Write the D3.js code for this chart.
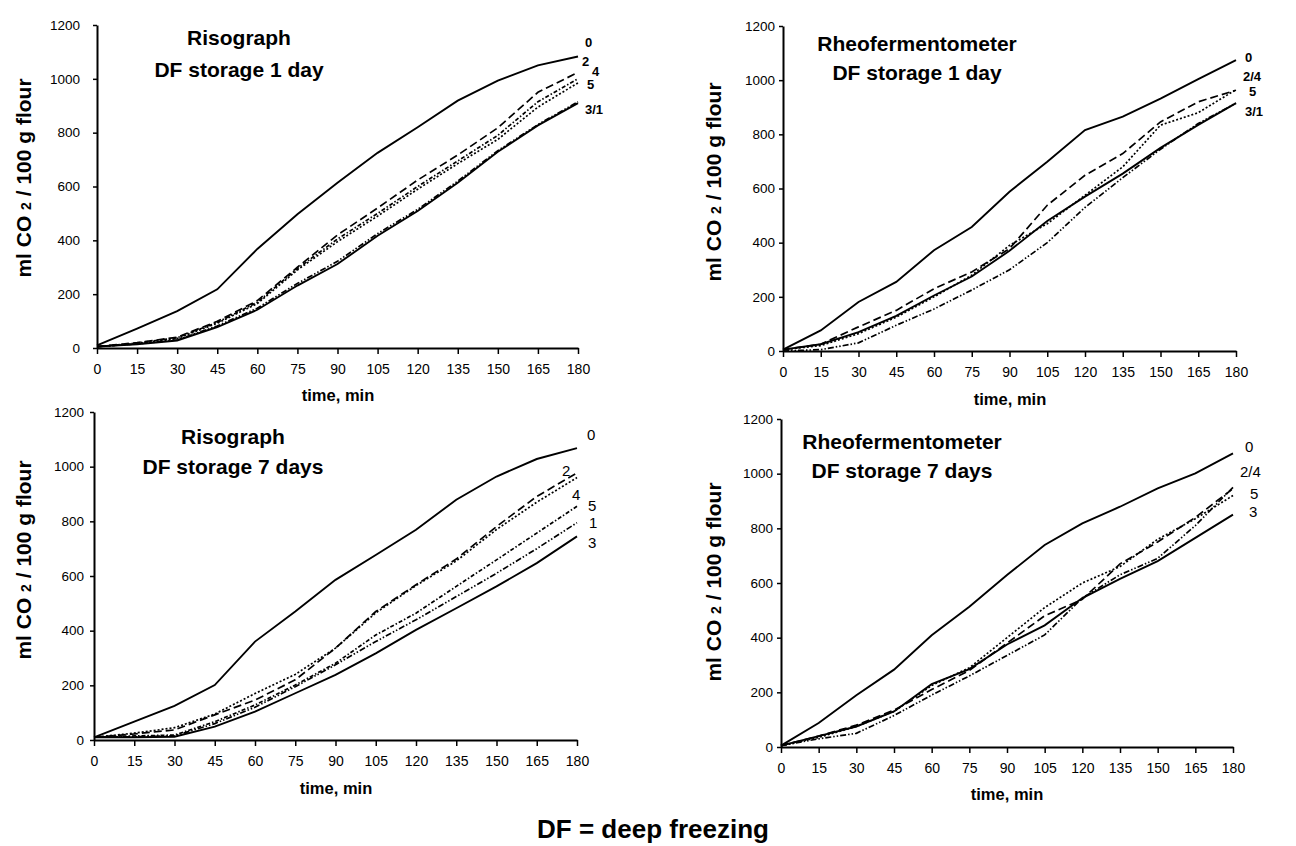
<!DOCTYPE html>
<html>
<head>
<meta charset="utf-8">
<script src="https://cdn.jsdelivr.net/npm/d3@7"></script>
<style>
  body { margin: 0; background: #fff; }
  svg { display: block; font-family: Arial, "Liberation Sans", Helvetica, sans-serif; }
</style>
</head>
<body>
<div id="chart"></div>
<script>
// time axis, minutes
var times = [0, 15, 30, 45, 60, 75, 90, 105, 120, 135, 150, 165, 180];
var yTicks = [0, 200, 400, 600, 800, 1000, 1200];

// Risograph, DF storage 1 day
var riso1_0 = [10, 72, 137, 218, 368, 497, 614, 725, 820, 919, 993, 1050, 1083];
var riso1_2 = [5, 20, 40, 99, 176, 300, 420, 520, 624, 717, 818, 950, 1024];
var riso1_4 = [5, 18, 38, 95, 170, 295, 405, 500, 600, 695, 790, 915, 1000];
var riso1_5 = [5, 16, 35, 92, 165, 290, 395, 490, 590, 685, 775, 895, 985];
var riso1_1 = [5, 15, 30, 82, 148, 240, 322, 425, 515, 620, 733, 830, 915];
var riso1_3 = [5, 14, 28, 78, 142, 232, 312, 417, 509, 614, 729, 827, 910];

// Rheofermentometer, DF storage 1 day
var rheo1_0 = [5, 76, 181, 255, 372, 458, 588, 699, 816, 865, 932, 1004, 1074];
var rheo1_24 = [5, 25, 89, 150, 230, 292, 378, 538, 649, 729, 846, 920, 963];
var rheo1_5 = [5, 20, 64, 125, 200, 280, 390, 470, 575, 680, 834, 880, 965];
var rheo1_3 = [5, 25, 70, 130, 205, 275, 370, 480, 570, 655, 750, 835, 915];
var rheo1_1 = [0, 5, 30, 95, 155, 225, 300, 400, 530, 640, 745, 840, 915];

// Risograph, DF storage 7 days
var riso7_0 = [10, 67, 125, 201, 360, 470, 586, 677, 769, 879, 964, 1028, 1068];
var riso7_2 = [10, 22, 37, 92, 146, 220, 336, 470, 568, 662, 781, 891, 977];
var riso7_4 = [10, 25, 45, 95, 170, 240, 336, 465, 565, 655, 770, 870, 960];
var riso7_5 = [10, 15, 18, 67, 128, 201, 281, 384, 464, 562, 659, 757, 855];
var riso7_1 = [10, 12, 15, 60, 120, 195, 275, 360, 440, 525, 610, 700, 795];
var riso7_3 = [10, 10, 12, 49, 104, 171, 238, 317, 403, 482, 562, 647, 745];

// Rheofermentometer, DF storage 7 days
var rheo7_0 = [5, 88, 189, 283, 409, 513, 629, 739, 818, 879, 946, 1001, 1074];
var rheo7_24 = [5, 40, 80, 135, 210, 280, 380, 480, 540, 670, 750, 840, 945];
var rheo7_5 = [5, 35, 75, 130, 225, 290, 400, 510, 600, 660, 760, 835, 920];
var rheo7_1 = [5, 30, 50, 115, 190, 260, 335, 410, 545, 630, 690, 810, 950];
var rheo7_3 = [5, 40, 75, 130, 230, 285, 375, 445, 545, 615, 680, 765, 850];

var dash = {
    solid: null,
    dashed: "8,4",
    dashdot: "4,2,1.5,2",
    dotted: "2,2",
    dashdotdot: "6,2,1.5,2,1.5,2"
};

var panels = [
    {
        title: ["Risograph", "DF storage 1 day"], titleX: 239, titleY: [45, 77],
        x0: 97, x1: 578, y0: 348, y1: 25, yLabelX: 24, yLabelY: 178,
        tickPad: 13, labelBold: true,
        series: [
            {vals: riso1_0, style: "solid"},
            {vals: riso1_2, style: "dashed"},
            {vals: riso1_4, style: "dashdot"},
            {vals: riso1_5, style: "dotted"},
            {vals: riso1_1, style: "dashdotdot"},
            {vals: riso1_3, style: "solid"}
        ],
        labels: [["0", 585, 47], ["2", 582, 66], ["4", 592, 76], ["5", 587, 89], ["3/1", 585, 114]]
    },
    {
        title: ["Rheofermentometer", "DF storage 1 day"], titleX: 917, titleY: [51, 80],
        x0: 783, x1: 1236, y0: 351, y1: 26, yLabelX: 714, yLabelY: 182,
        tickPad: 4, labelBold: true,
        series: [
            {vals: rheo1_0, style: "solid"},
            {vals: rheo1_24, style: "dashed"},
            {vals: rheo1_5, style: "dotted"},
            {vals: rheo1_1, style: "dashdotdot"},
            {vals: rheo1_3, style: "solid"}
        ],
        labels: [["0", 1245, 62], ["2/4", 1243, 81], ["5", 1249, 96], ["3/1", 1245, 116]]
    },
    {
        title: ["Risograph", "DF storage 7 days"], titleX: 233, titleY: [444, 474],
        x0: 94, x1: 577, y0: 740, y1: 412, yLabelX: 24, yLabelY: 560,
        tickPad: 6, labelBold: false,
        series: [
            {vals: riso7_0, style: "solid"},
            {vals: riso7_2, style: "dashed"},
            {vals: riso7_4, style: "dotted"},
            {vals: riso7_5, style: "dashdot"},
            {vals: riso7_1, style: "dashdotdot"},
            {vals: riso7_3, style: "solid"}
        ],
        labels: [["0", 587, 440], ["2", 562, 476], ["4", 572, 500], ["5", 588, 511], ["1", 589, 528], ["3", 588, 548]]
    },
    {
        title: ["Rheofermentometer", "DF storage 7 days"], titleX: 902, titleY: [449, 478],
        x0: 781, x1: 1233, y0: 747, y1: 419, yLabelX: 714, yLabelY: 582,
        tickPad: 4, labelBold: false,
        series: [
            {vals: rheo7_0, style: "solid"},
            {vals: rheo7_24, style: "dashed"},
            {vals: rheo7_5, style: "dotted"},
            {vals: rheo7_1, style: "dashdotdot"},
            {vals: rheo7_3, style: "solid"}
        ],
        labels: [["0", 1245, 452], ["2/4", 1240, 477], ["5", 1250, 499], ["3", 1249, 517]]
    }
];

// "time, min" captions (top-left, top-right, bottom-left, bottom-right)
var xTitles = [[338, 401], [1010, 405], [336, 794], [1007, 800]];

var svg = d3.select("#chart").append("svg")
    .attr("width", 1296)
    .attr("height", 846);

panels.forEach(function(p) {
    var x = d3.scaleLinear().domain([0, 180]).range([p.x0, p.x1]);
    var y = d3.scaleLinear().domain([0, 1200]).range([p.y0, p.y1]);

    var g = svg.append("g");

    // y axis
    var yAxis = g.append("g")
        .attr("transform", "translate(" + p.x0 + ",0)")
        .call(d3.axisLeft(y).tickValues(yTicks).tickFormat(d3.format("d"))
            .tickSize(4).tickPadding(p.tickPad).tickSizeOuter(0));
    yAxis.selectAll("text")
        .attr("font-size", "13.5px")
        .attr("font-family", "Arial, 'Liberation Sans', sans-serif")
        .attr("fill", "#000");

    // x axis
    var xAxis = g.append("g")
        .attr("transform", "translate(0," + p.y0 + ")")
        .call(d3.axisBottom(x).tickValues(times).tickFormat(d3.format("d"))
            .tickSize(6).tickPadding(10).tickSizeOuter(0));
    xAxis.selectAll("text")
        .attr("font-size", "14px")
        .attr("font-family", "Arial, 'Liberation Sans', sans-serif")
        .attr("fill", "#000");

    g.selectAll(".domain").attr("stroke", "#000").attr("stroke-width", 2);
    g.selectAll(".tick line").attr("stroke", "#000").attr("stroke-width", 1.5);

    // curves
    var line = d3.line()
        .x(function(d, i) { return x(times[i]); })
        .y(function(d) { return y(d); });

    g.selectAll("path.curve")
        .data(p.series)
        .enter().append("path")
        .attr("class", "curve")
        .attr("d", function(s) { return line(s.vals); })
        .attr("fill", "none")
        .attr("stroke", "#000")
        .attr("stroke-width", function(s) { return s.style == "solid" ? 1.9 : 1.7; })
        .attr("stroke-dasharray", function(s) { return dash[s.style]; });

    // titles
    g.selectAll("text.title")
        .data(p.title)
        .enter().append("text")
        .attr("class", "title")
        .attr("x", p.titleX)
        .attr("y", function(d, i) { return p.titleY[i]; })
        .attr("text-anchor", "middle")
        .attr("font-size", "21px")
        .attr("font-weight", "bold")
        .text(function(d) { return d; });

    // series labels at line ends
    g.selectAll("text.lab")
        .data(p.labels)
        .enter().append("text")
        .attr("class", "lab")
        .attr("x", function(d) { return d[1]; })
        .attr("y", function(d) { return d[2]; })
        .attr("font-size", p.labelBold ? "13px" : "15px")
        .attr("font-weight", p.labelBold ? "bold" : "normal")
        .text(function(d) { return d[0]; });

    // y axis title
    var yt = g.append("text")
        .attr("transform", "translate(" + p.yLabelX + "," + p.yLabelY + ") rotate(-90)")
        .attr("text-anchor", "middle")
        .attr("dy", "0.35em")
        .attr("font-size", "21px")
        .attr("font-weight", "bold");
    yt.append("tspan").text("ml CO ");
    yt.append("tspan").attr("font-size", "14px").text("2");
    yt.append("tspan").text(" / 100 g flour");
});

svg.selectAll("text.xtitle")
    .data(xTitles)
    .enter().append("text")
    .attr("class", "xtitle")
    .attr("x", function(d) { return d[0]; })
    .attr("y", function(d) { return d[1]; })
    .attr("text-anchor", "middle")
    .attr("font-size", "16.5px")
    .attr("font-weight", "bold")
    .text("time, min");

svg.append("text")
    .attr("x", 653)
    .attr("y", 838)
    .attr("text-anchor", "middle")
    .attr("font-size", "26px")
    .attr("font-weight", "bold")
    .text("DF = deep freezing");
</script>
</body>
</html>
